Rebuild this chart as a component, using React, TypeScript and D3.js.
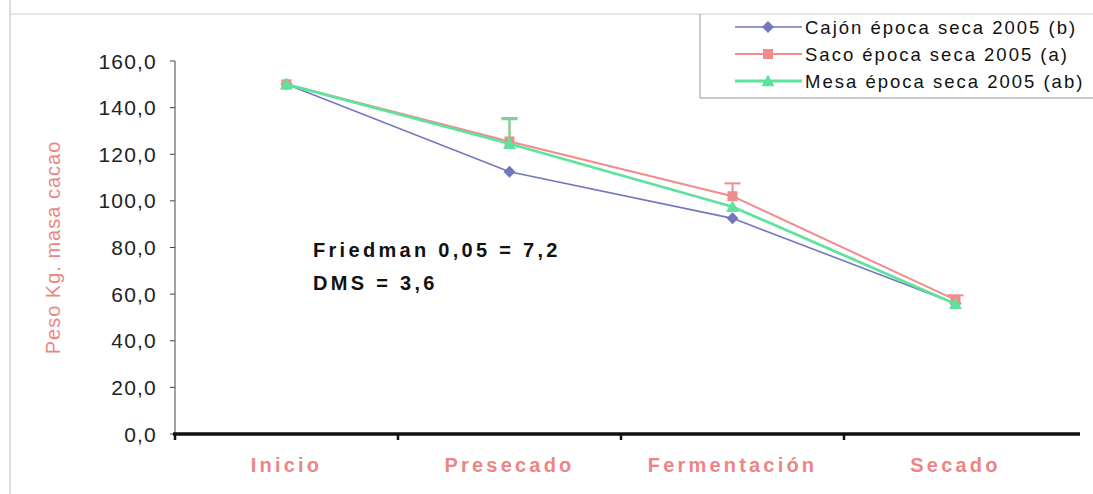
import React from "react";
import * as d3 from "d3";

const stages = ["Inicio", "Presecado", "Fermentación", "Secado"];
const yTicks = [0, 20, 40, 60, 80, 100, 120, 140, 160];

const cajon = [150, 112.5, 92.5, 56];
const saco = [150, 125.5, 102, 57.5];
const mesa = [150, 124.5, 97.5, 55.8];

// upper error bar lengths per stage
const sacoErr = [0, 10, 5.5, 2];
const mesaErr = [0, 10.5, 0, 0];

const seriesNames = [
  "Cajón época seca 2005 (b)",
  "Saco época seca 2005 (a)",
  "Mesa época seca 2005 (ab)",
];

const W = 1093;
const H = 494;
const left = 175;
const right = 1067;
const top = 61;
const bottom = 434;

export default function App() {
  const x = d3.scaleBand<string>().domain(stages).range([left, right]).padding(0);
  const y = d3.scaleLinear().domain([0, 160]).range([bottom, top]);
  const cx = (s: string) => (x(s) as number) + x.bandwidth() / 2;

  const line = d3
    .line<number>()
    .x((_, i) => cx(stages[i]))
    .y((d) => y(d));

  const series = [
    { name: seriesNames[0], values: cajon, color: "#7277bf", width: 1.6, marker: "diamond", err: null as number[] | null },
    { name: seriesNames[1], values: saco, color: "#f28b8b", width: 2, marker: "square", err: sacoErr },
    { name: seriesNames[2], values: mesa, color: "#5ee39c", width: 2.8, marker: "triangle", err: mesaErr },
  ];

  const marker = (kind: string, px: number, py: number, color: string, key: string) => {
    if (kind === "diamond") {
      const s = 6;
      return <path key={key} d={`M${px},${py - s}L${px + s},${py}L${px},${py + s}L${px - s},${py}Z`} fill={color} />;
    }
    if (kind === "square") {
      return <rect key={key} x={px - 5} y={py - 5} width={10} height={10} fill={color} />;
    }
    const s = 6.5;
    return <path key={key} d={`M${px},${py - s}L${px + s},${py + s * 0.8}L${px - s},${py + s * 0.8}Z`} fill={color} />;
  };

  const font = "Arial, 'Liberation Sans', sans-serif";
  const pink = "#ee8585";

  return (
    <svg width={W} height={H} style={{ position: "absolute", left: 0, top: 0, background: "#fff" }} fontFamily={font}>
      {/* faint frame */}
      <line x1={10} x2={10} y1={0} y2={H} stroke="#bbb" strokeWidth={1} />
      <line x1={10} x2={W} y1={14} y2={14} stroke="#ccc" strokeWidth={1} />

      {/* y axis */}
      <line x1={left} x2={left} y1={top} y2={bottom} stroke="#444" strokeWidth={1} />
      {yTicks.map((t) => (
        <g key={t}>
          <line x1={left - 5} x2={left} y1={y(t)} y2={y(t)} stroke="#444" strokeWidth={1} />
          <text x={157} y={y(t)} dy="0.36em" textAnchor="end" fontSize={21} letterSpacing={1.2} fill="#222">
            {t.toFixed(1).replace(".", ",")}
          </text>
        </g>
      ))}
      <text
        transform={`translate(60,${(top + bottom) / 2}) rotate(-90)`}
        textAnchor="middle"
        fontSize={20}
        letterSpacing={1}
        fill={pink}
      >
        Peso Kg. masa cacao
      </text>

      {/* x axis */}
      <line x1={left - 2} x2={1080} y1={bottom} y2={bottom} stroke="#111" strokeWidth={3.5} />
      {stages.map((s) => (
        <line key={s} x1={x(s) as number} x2={x(s) as number} y1={bottom} y2={bottom + 6} stroke="#111" strokeWidth={2.5} />
      ))}
      {stages.map((s) => (
        <text key={s} x={cx(s)} y={472} textAnchor="middle" fontSize={20} fontWeight="bold" letterSpacing={3.2} fill={pink}>
          {s}
        </text>
      ))}

      {/* series */}
      {series.map((sr, si) => (
        <g key={sr.name}>
          <path d={line(sr.values) as string} fill="none" stroke={sr.color} strokeWidth={sr.width} />
          {sr.err &&
            sr.values.map((v, i) =>
              sr.err![i] > 0 ? (
                <g key={i} stroke={sr.color} strokeWidth={2}>
                  <line x1={cx(stages[i])} x2={cx(stages[i])} y1={y(v)} y2={y(v + sr.err![i])} />
                  <line x1={cx(stages[i]) - 8} x2={cx(stages[i]) + 8} y1={y(v + sr.err![i])} y2={y(v + sr.err![i])} />
                </g>
              ) : null
            )}
          {sr.values.map((v, i) => marker(sr.marker, cx(stages[i]), y(v), sr.color, `${si}-${i}`))}
        </g>
      ))}

      {/* statistics note */}
      <text x={313} y={257} fontSize={20} fontWeight="bold" fill="#111" letterSpacing={3.3}>
        Friedman 0,05 = 7,2
      </text>
      <text x={313} y={290} fontSize={20} fontWeight="bold" fill="#111" letterSpacing={3.3}>
        DMS = 3,6
      </text>

      {/* legend */}
      <g>
        <path d={`M700,14L700,98L${W},98`} fill="none" stroke="#999" strokeWidth={1} />
        {series.map((sr, i) => {
          const ly = 27 + i * 27;
          return (
            <g key={sr.name}>
              <line x1={735} x2={802} y1={ly} y2={ly} stroke={sr.color} strokeWidth={sr.width} />
              {marker(sr.marker, 768, ly, sr.color, `lg-${i}`)}
              <text x={805} y={ly} dy="0.36em" fontSize={18.5} fill="#111" letterSpacing={2}>
                {sr.name}
              </text>
            </g>
          );
        })}
      </g>
    </svg>
  );
}
